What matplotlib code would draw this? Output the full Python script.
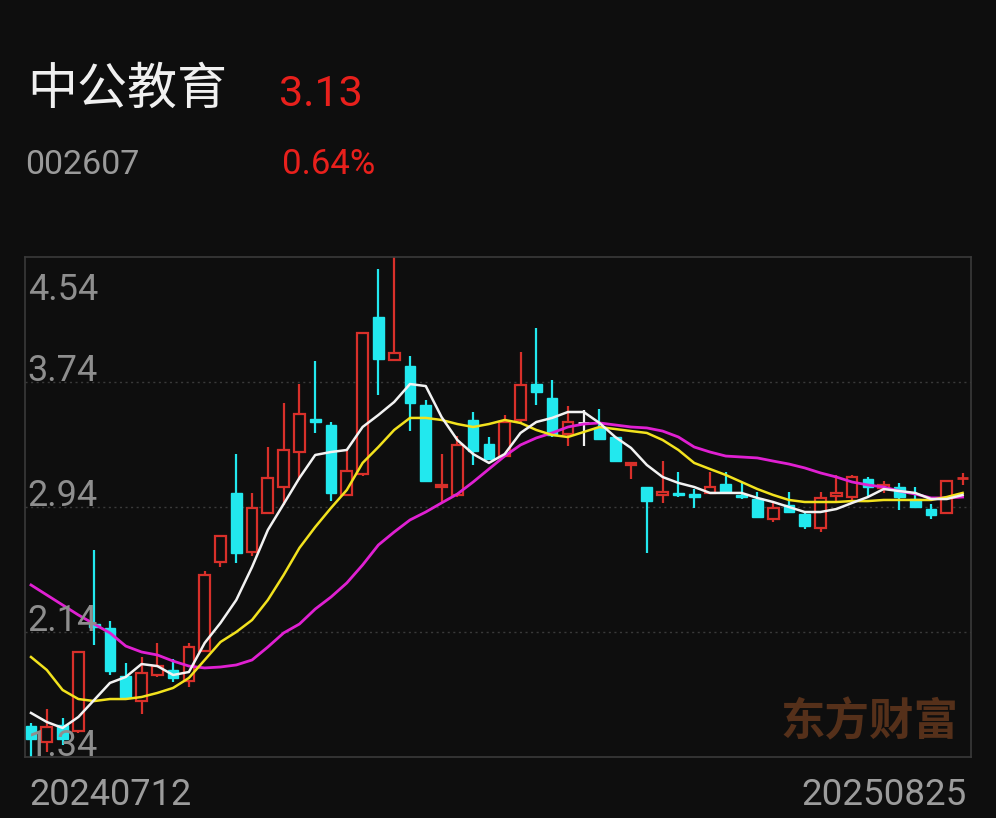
import matplotlib
matplotlib.use('Agg')
import matplotlib.pyplot as plt
from matplotlib.patches import Rectangle

# ---------------- data ----------------
name = '中公教育'
code = '002607'
last_price = '3.13'
change_pct = '0.64%'
start_date = '20240712'
end_date = '20250825'
y_ticks = [4.54, 3.74, 2.94, 2.14, 1.34]
grid_levels = [3.74, 2.94, 2.14]
watermark = '东方财富'

opens = [1.538, 1.436, 1.545, 1.507, 2.191, 2.166, 1.858, 1.698, 1.865, 1.897,
         1.826, 2.018, 2.588, 3.030, 2.652, 2.902, 3.068, 3.292, 3.503, 3.465,
         3.017, 3.151, 4.156, 3.881, 3.842, 3.593, 3.068, 3.017, 3.497, 3.343,
         3.266, 3.497, 3.727, 3.638, 3.407, 3.478, 3.446, 3.388, 3.209, 3.068,
         3.017, 3.030, 3.023, 3.030, 3.087, 3.017, 2.991, 2.863, 2.953, 2.895,
         2.806, 3.011, 3.004, 3.119, 3.062, 3.068, 2.991, 2.927, 2.902, 3.120]
highs = [1.558, 1.647, 1.590, 2.012, 2.665, 2.210, 1.940, 1.980, 2.070, 1.967,
         2.070, 2.530, 2.754, 3.279, 3.030, 3.324, 3.606, 3.727, 3.874, 3.484,
         3.305, 4.054, 4.463, 4.540, 3.906, 3.625, 3.279, 3.394, 3.548, 3.388,
         3.529, 3.932, 4.086, 3.753, 3.586, 3.560, 3.567, 3.388, 3.222, 3.068,
         3.234, 3.164, 3.055, 3.164, 3.164, 3.094, 3.036, 2.972, 3.036, 2.914,
         3.036, 3.145, 3.145, 3.132, 3.106, 3.094, 3.068, 2.959, 3.106, 3.160]
lows = [1.340, 1.372, 1.417, 1.495, 2.057, 1.865, 1.718, 1.615, 1.852, 1.820,
        1.788, 2.018, 2.556, 2.582, 2.626, 2.895, 2.953, 3.113, 3.414, 2.978,
        3.017, 3.138, 3.657, 3.881, 3.426, 3.106, 2.966, 3.004, 3.209, 3.241,
        3.260, 3.484, 3.593, 3.388, 3.330, 3.330, 3.375, 3.228, 3.119, 2.646,
        2.966, 3.004, 2.934, 3.030, 3.036, 2.991, 2.876, 2.844, 2.908, 2.799,
        2.780, 2.972, 2.985, 3.011, 3.030, 2.921, 2.940, 2.863, 2.902, 3.080]
closes = [1.455, 1.532, 1.455, 2.012, 2.172, 1.890, 1.724, 1.878, 1.922, 1.846,
          2.044, 2.505, 2.754, 2.646, 2.934, 3.126, 3.305, 3.535, 3.484, 3.030,
          3.170, 4.054, 3.887, 3.926, 3.606, 3.106, 3.081, 3.337, 3.298, 3.247,
          3.484, 3.721, 3.676, 3.401, 3.484, 3.478, 3.375, 3.234, 3.222, 2.978,
          3.036, 3.017, 3.004, 3.068, 3.036, 3.004, 2.876, 2.934, 2.908, 2.818,
          2.998, 3.030, 3.132, 3.068, 3.081, 3.004, 2.940, 2.889, 3.106, 3.130]

ma5 = [1.622, 1.564, 1.526, 1.596, 1.705, 1.814, 1.852, 1.935, 1.922, 1.865,
       1.884, 2.070, 2.198, 2.345, 2.556, 2.793, 2.959, 3.126, 3.273, 3.292,
       3.305, 3.452, 3.529, 3.612, 3.727, 3.714, 3.516, 3.369, 3.279, 3.222,
       3.279, 3.414, 3.484, 3.510, 3.548, 3.548, 3.478, 3.388, 3.318, 3.209,
       3.132, 3.094, 3.068, 3.030, 3.030, 3.030, 2.998, 2.972, 2.940, 2.908,
       2.908, 2.927, 2.966, 3.004, 3.055, 3.042, 3.030, 2.991, 2.991, 3.017]
ma10 = [1.980, 1.897, 1.769, 1.711, 1.698, 1.711, 1.711, 1.724, 1.750, 1.782,
        1.846, 1.961, 2.076, 2.140, 2.217, 2.345, 2.505, 2.678, 2.812, 2.934,
        3.049, 3.222, 3.324, 3.433, 3.510, 3.510, 3.497, 3.471, 3.452, 3.471,
        3.497, 3.478, 3.433, 3.401, 3.388, 3.420, 3.452, 3.439, 3.426, 3.414,
        3.369, 3.305, 3.222, 3.183, 3.145, 3.100, 3.055, 3.017, 2.985, 2.972,
        2.972, 2.972, 2.978, 2.978, 2.985, 2.985, 2.985, 2.985, 3.004, 3.030]
ma20 = [2.441, 2.377, 2.313, 2.249, 2.191, 2.134, 2.050, 2.012, 1.993, 1.954,
        1.922, 1.910, 1.916, 1.929, 1.961, 2.044, 2.134, 2.191, 2.287, 2.364,
        2.454, 2.569, 2.697, 2.780, 2.857, 2.908, 2.966, 3.023, 3.100, 3.183,
        3.266, 3.337, 3.382, 3.414, 3.452, 3.471, 3.478, 3.465, 3.452, 3.446,
        3.426, 3.388, 3.324, 3.292, 3.266, 3.260, 3.254, 3.234, 3.215, 3.190,
        3.158, 3.132, 3.100, 3.081, 3.068, 3.042, 3.023, 2.998, 2.998, 3.004]

# ---------------- style ----------------
BG = '#0e0e0e'
RED = '#d8302a'
CYAN = '#22e8ee'
WHITE = '#f2f2f2'
YELLOW = '#f2e21e'
MAGENTA = '#e020d2'
GRID = '#3a3a3a'
LABEL = '#8e8e8e'

plt.rcParams['font.family'] = ['Roboto', 'Noto Sans CJK SC', 'DejaVu Sans']

fig = plt.figure(figsize=(9.96, 8.18), dpi=100, facecolor=BG)
ax = fig.add_axes([25 / 996, 61 / 818, 946 / 996, 500 / 818])
ax.set_facecolor(BG)
n = len(closes)
ax.set_xlim(-0.38, n - 0.47)
ax.set_ylim(min(y_ticks), max(y_ticks))
for s in ax.spines.values():
    s.set_color(GRID)
    s.set_linewidth(1.2)
ax.set_xticks([])
ax.set_yticks([])

for g in grid_levels:
    ax.axhline(g, color=GRID, lw=1.0, ls=(0, (1.5, 2.5)), zorder=1)

bw = 0.68
for i in range(n):
    o, h, l, c = opens[i], highs[i], lows[i], closes[i]
    if c > o:
        col = RED
    elif c < o:
        col = CYAN
    else:
        col = WHITE
    top, bot = max(o, c), min(o, c)
    ax.plot([i, i], [l, h], color=col, lw=1.6, zorder=2, solid_capstyle='butt')
    if top - bot < 0.012:
        ax.plot([i - bw / 2, i + bw / 2], [(top + bot) / 2] * 2, color=col,
                lw=2.0, zorder=3, solid_capstyle='butt')
    elif c > o:
        ax.add_patch(Rectangle((i - bw / 2, bot), bw, top - bot, facecolor=BG,
                               edgecolor=col, lw=1.6, zorder=3))
    else:
        ax.add_patch(Rectangle((i - bw / 2, bot), bw, top - bot, facecolor=col,
                               edgecolor=col, lw=1.0, zorder=3))

xs = list(range(n))
ax.plot(xs, ma20, color=MAGENTA, lw=2.0, zorder=4)
ax.plot(xs, ma10, color=YELLOW, lw=1.8, zorder=5)
ax.plot(xs, ma5, color=WHITE, lw=1.8, zorder=6)

# y labels inside the plot
for t in y_ticks:
    if t == max(y_ticks):
        ax.annotate(f'{t:.2f}', xy=(0.003, 1.0), xycoords='axes fraction',
                    xytext=(0, -11), textcoords='offset points',
                    ha='left', va='top', color=LABEL, fontsize=26, zorder=7)
    else:
        ax.annotate(f'{t:.2f}', xy=(0.003, t), xycoords=('axes fraction', 'data'),
                    xytext=(0, 1), textcoords='offset points',
                    ha='left', va='baseline', color=LABEL, fontsize=26, zorder=7)

# watermark
fig.text(869 / 996, 1 - 722 / 818, watermark, color='#55301a', fontsize=32,
         fontweight='bold', family=['Noto Sans CJK SC'], ha='center', va='center',
         zorder=0)

# header texts
fig.text(27 / 996, 1 - 90 / 818, name, color='#f0f0f0', fontsize=36,
         family=['Noto Sans CJK SC'], ha='left', va='center')
fig.text(279 / 996, 1 - 106 / 818, last_price, color='#e8201c', fontsize=31,
         ha='left', va='baseline')
fig.text(25 / 996, 1 - 174 / 818, code, color='#9a9a9a', fontsize=24.5,
         ha='left', va='baseline')
fig.text(282 / 996, 1 - 174 / 818, change_pct, color='#e8201c', fontsize=25,
         ha='left', va='baseline')

# date labels
fig.text(29 / 996, 1 - 805 / 818, start_date, color='#9c9c9c', fontsize=26,
         ha='left', va='baseline')
fig.text(967 / 996, 1 - 805 / 818, end_date, color='#9c9c9c', fontsize=26.5,
         ha='right', va='baseline')

fig.savefig('out.png', dpi=100, facecolor=BG)
